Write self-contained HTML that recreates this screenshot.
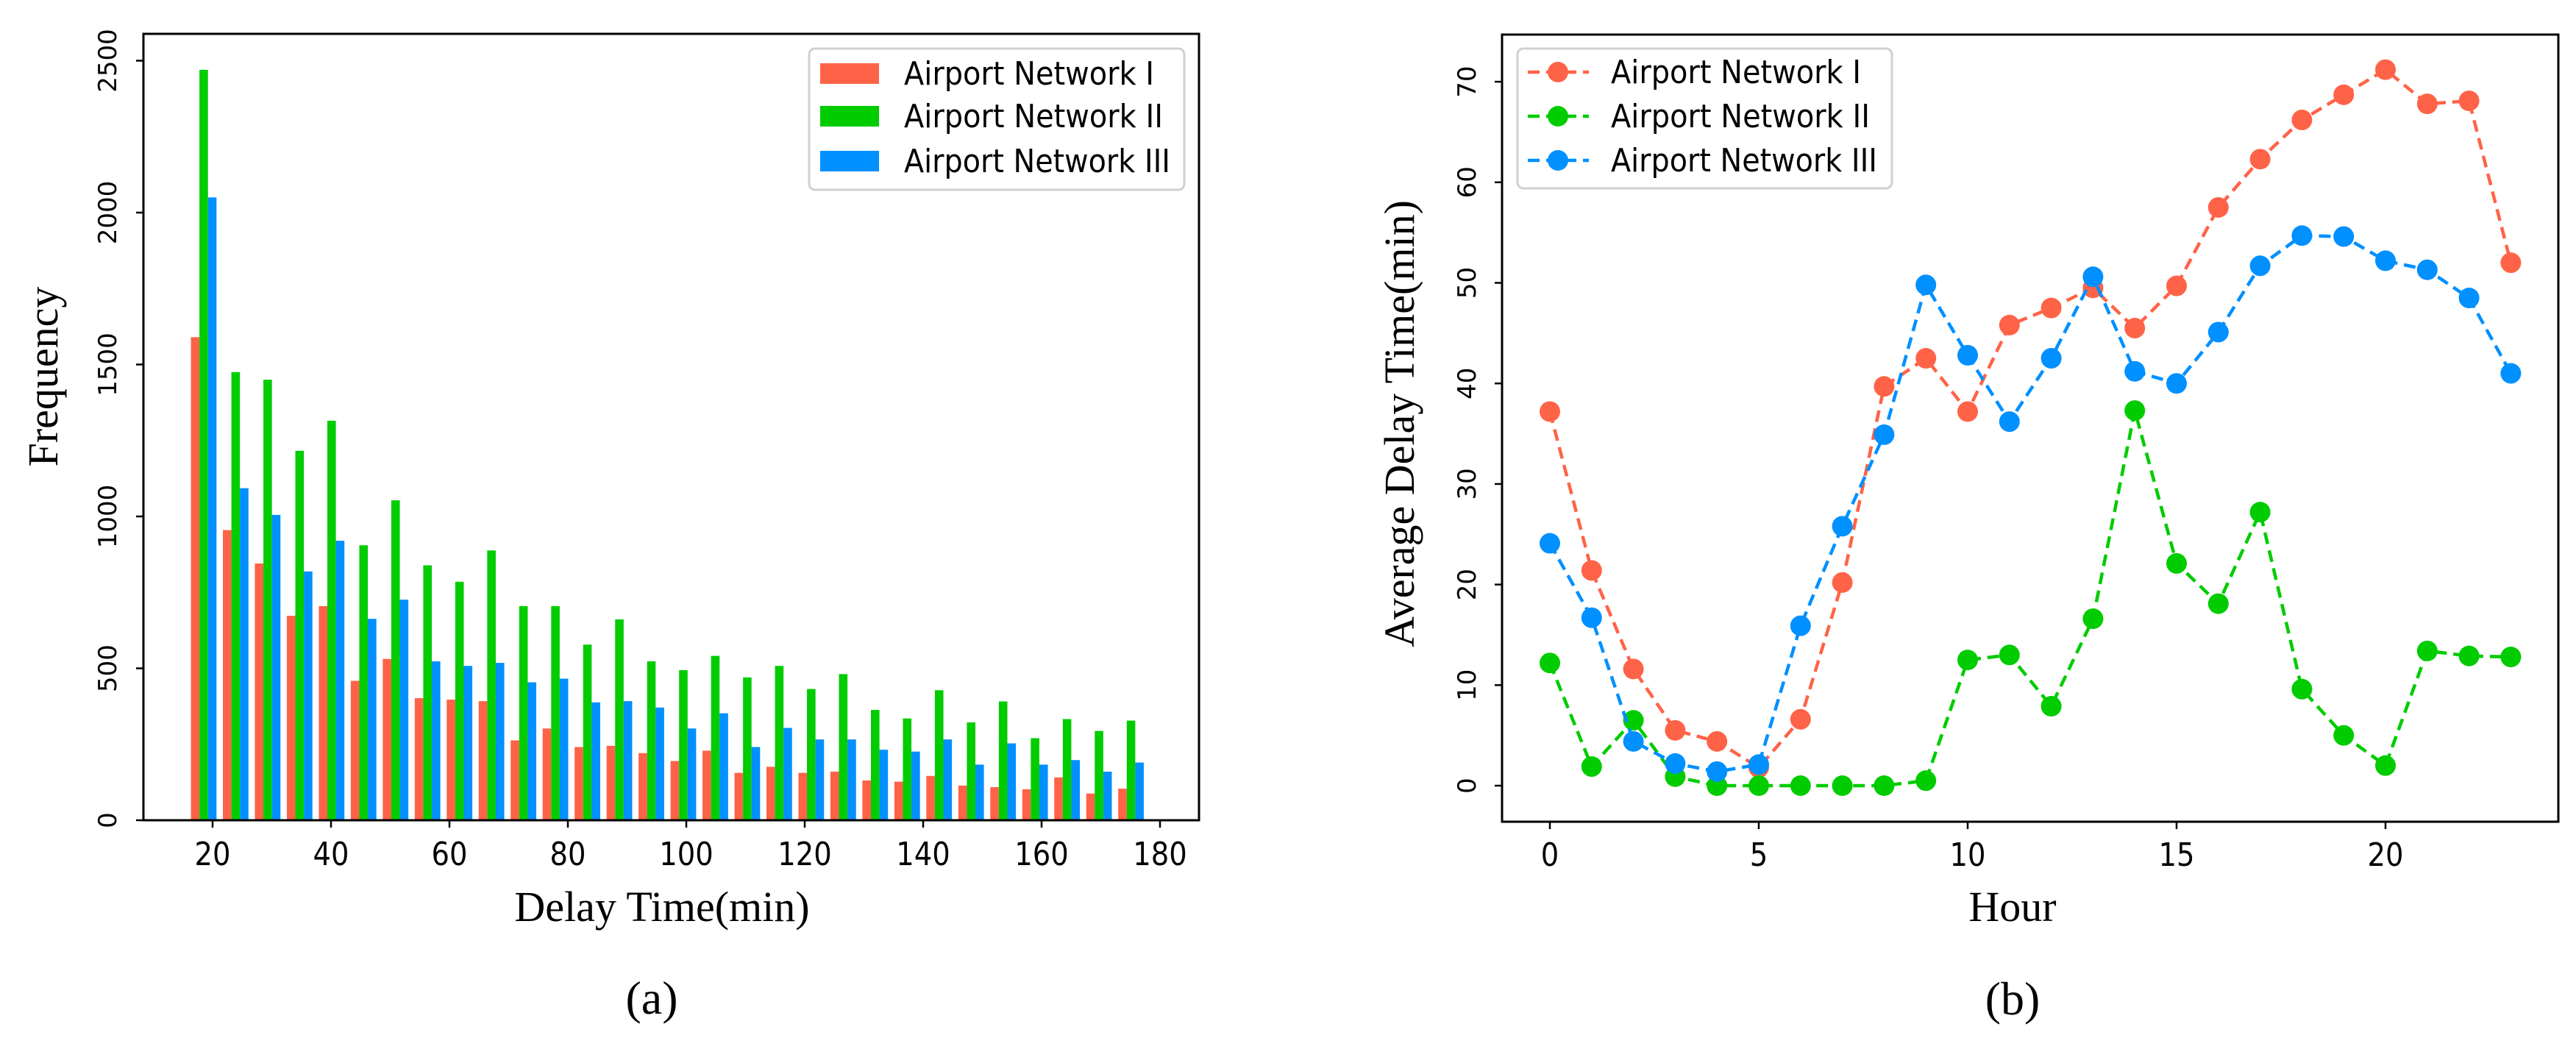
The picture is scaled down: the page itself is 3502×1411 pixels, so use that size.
<!DOCTYPE html>
<html><head><meta charset="utf-8"><style>
html,body{margin:0;padding:0;background:#fff;}
svg{display:block;}
.tk{font-family:"DejaVu Sans","Liberation Sans",sans-serif;font-size:34px;fill:#000;}
.xt{font-family:"DejaVu Sans","Liberation Sans",sans-serif;font-size:44px;fill:#000;}
.lab{font-family:"Liberation Serif",serif;font-size:58px;fill:#000;}
.lg{font-family:"DejaVu Sans","Liberation Sans",sans-serif;font-size:44px;fill:#000;}
</style></head><body>
<svg id="svg" width="3502" height="1411" viewBox="0 0 3502 1411" xmlns="http://www.w3.org/2000/svg">
<g id="left"></g>
<g id="right"></g>
</svg>
<script>
// ---- Histogram data ----
const histSeriesNames = ["Airport Network I","Airport Network II","Airport Network III"];
const histI = [1590,955,845,673,705,459,531,402,397,392,263,302,241,245,221,195,229,156,176,156,160,131,127,146,114,109,102,141,88,104];
const histII = [2470,1475,1450,1216,1315,905,1053,839,785,888,705,705,578,661,523,494,541,470,508,432,481,363,335,428,322,391,270,333,294,328];
const histIII = [2050,1093,1005,819,920,663,726,523,508,518,454,466,388,392,371,302,352,241,304,266,266,232,226,266,183,253,183,198,160,190];
const histXTicks = [20,40,60,80,100,120,140,160,180];
const histYTicks = [0,500,1000,1500,2000,2500];
const binStart = 15.8, binWidth = 5.4;
// ---- Line data ----
const hours = [0,1,2,3,4,5,6,7,8,9,10,11,12,13,14,15,16,17,18,19,20,21,22,23];
const lineI = [37.2,21.4,11.6,5.5,4.4,1.8,6.6,20.2,39.7,42.5,37.2,45.8,47.5,49.5,45.5,49.7,57.5,62.3,66.2,68.7,71.2,67.8,68.1,52.0];
const lineII = [12.2,1.9,6.5,0.9,0,0,0,0,0,0.5,12.5,13.0,7.9,16.6,37.3,22.1,18.1,27.2,9.6,5.0,2.0,13.4,12.9,12.8];
const lineIII = [24.1,16.7,4.4,2.2,1.4,2.1,15.9,25.8,34.9,49.8,42.8,36.2,42.5,50.6,41.2,40.0,45.1,51.7,54.7,54.6,52.2,51.3,48.5,41.0];
const lineXTicks = [0,5,10,15,20];
const lineYTicks = [0,10,20,30,40,50,60,70];

const colors = ["#ff6347","#00cc00","#0090ff"];
const legendLens = [340,352,362];
const NS = "http://www.w3.org/2000/svg";
function mk(parent, tag, attrs, text){
  const e = document.createElementNS(NS, tag);
  for (const k in attrs) e.setAttribute(k, attrs[k]);
  if (text !== undefined) e.textContent = text;
  parent.appendChild(e); return e;
}

// ===== Left histogram =====
(function(){
  const g = document.getElementById('left');
  const L=195,R=1630,T=46,B=1115;
  const xs = v => 289 + (v-20)*8.05;
  const ys = v => B - v*0.413;
  const series=[histI,histII,histIII];
  const bw = binWidth*0.8/3;
  series.forEach((arr,si)=>{
    arr.forEach((v,i)=>{
      const x0 = binStart + i*binWidth + binWidth*0.1 + si*bw;
      const r = mk(g,'rect',{x:xs(x0),y:ys(v),width:xs(x0+bw)-xs(x0),height:B-ys(v),fill:colors[si]});
      
      
    });
  });
  const f = mk(g,'rect',{x:L,y:T,width:R-L,height:B-T,fill:'none',stroke:'#000','stroke-width':3});
  
  
  histXTicks.forEach(t=>{
    mk(g,'line',{x1:xs(t),x2:xs(t),y1:B,y2:B+10,stroke:'#000','stroke-width':2.5});
    const s = String(t);
    const tx = mk(g,'text',{x:xs(t),y:1176,'text-anchor':'middle',class:'xt',textLength:s.length*24.5,lengthAdjust:'spacingAndGlyphs'},s);
    
    
  });
  histYTicks.forEach(t=>{
    mk(g,'line',{x1:L-10,x2:L,y1:ys(t),y2:ys(t),stroke:'#000','stroke-width':2.5});
    const tx = mk(g,'text',{x:0,y:0,'text-anchor':'middle',class:'tk',transform:`translate(158,${ys(t)}) rotate(-90)`},t);
    
    
  });
  const xl = mk(g,'text',{x:900,y:1252,'text-anchor':'middle',class:'lab'},'Delay Time(min)');
  
  
  const yl = mk(g,'text',{x:0,y:0,'text-anchor':'middle',class:'lab',transform:'translate(78,512) rotate(-90)'},'Frequency');
  
  
  const cap = mk(g,'text',{x:886,y:1378,'text-anchor':'middle',class:'lab',style:'font-size:64px'},'(a)');
  
  
  const lg = mk(g,'g',{});
  
  
  mk(lg,'rect',{x:1100,y:66,width:510,height:192,rx:8,fill:'#fff',stroke:'#d0d0d0','stroke-width':3});
  [100,158,219].forEach((y,i)=>{
    mk(lg,'rect',{x:1115,y:y-14,width:80,height:28,fill:colors[i]});
    const t = mk(lg,'text',{x:1229,y:y+15,class:'lg',textLength:legendLens[i],lengthAdjust:'spacingAndGlyphs'},histSeriesNames[i]);
    
    
  });
})();

// ===== Right line chart =====
(function(){
  const g = document.getElementById('right');
  const L=2042,R=3478,T=47,B=1117;
  const xs = v => 2107 + v*56.8;
  const ys = v => 1068 - v*13.67;
  const f = mk(g,'rect',{x:L,y:T,width:R-L,height:B-T,fill:'none',stroke:'#000','stroke-width':3});
  
  
  [lineI,lineII,lineIII].forEach((arr,si)=>{
    const pts = arr.map((v,i)=>xs(hours[i])+','+ys(v)).join(' ');
    const pl = mk(g,'polyline',{points:pts,fill:'none',stroke:colors[si],'stroke-width':4.5,'stroke-dasharray':'16,9'});
    
    
    arr.forEach((v,i)=>{
      const c = mk(g,'circle',{cx:xs(hours[i]),cy:ys(v),r:14,fill:colors[si]});
      
      
    });
  });
  lineXTicks.forEach(t=>{
    mk(g,'line',{x1:xs(t),x2:xs(t),y1:B,y2:B+10,stroke:'#000','stroke-width':2.5});
    const s = String(t);
    const tx = mk(g,'text',{x:xs(t),y:1177,'text-anchor':'middle',class:'xt',textLength:s.length*24.5,lengthAdjust:'spacingAndGlyphs'},s);
    
    
  });
  lineYTicks.forEach(t=>{
    mk(g,'line',{x1:L-10,x2:L,y1:ys(t),y2:ys(t),stroke:'#000','stroke-width':2.5});
    const tx = mk(g,'text',{x:0,y:0,'text-anchor':'middle',class:'tk',transform:`translate(2006,${ys(t)}) rotate(-90)`},t);
    
    
  });
  const xl = mk(g,'text',{x:2736,y:1252,'text-anchor':'middle',class:'lab'},'Hour');
  
  
  const yl = mk(g,'text',{x:0,y:0,'text-anchor':'middle',class:'lab',transform:'translate(1922,576) rotate(-90)'},'Average Delay Time(min)');
  
  
  const cap = mk(g,'text',{x:2736,y:1379,'text-anchor':'middle',class:'lab',style:'font-size:64px'},'(b)');
  
  
  const lg = mk(g,'g',{});
  
  
  mk(lg,'rect',{x:2063,y:66,width:509,height:190,rx:8,fill:'#fff',stroke:'#d0d0d0','stroke-width':3});
  [98,158,218].forEach((y,i)=>{
    mk(lg,'line',{x1:2077,x2:2160,y1:y,y2:y,stroke:colors[i],'stroke-width':4.5,'stroke-dasharray':'16,9'});
    mk(lg,'circle',{cx:2118,cy:y,r:14,fill:colors[i]});
    const t = mk(lg,'text',{x:2190,y:y+15,class:'lg',textLength:legendLens[i],lengthAdjust:'spacingAndGlyphs'},histSeriesNames[i]);
    
    
  });
})();
</script>
</body></html>
